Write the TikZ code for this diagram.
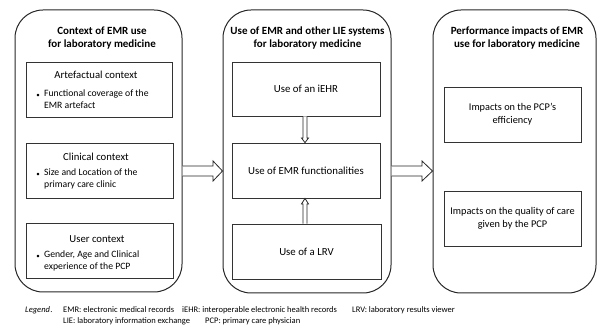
\documentclass[tikz,border=0pt]{standalone}
\usepackage{fontspec}
\setmainfont{Carlito}
\begin{document}
\begin{tikzpicture}[x=1pt,y=-1pt,
  outerbox/.style={draw=black!85, line width=1pt, rounded corners=28pt, inner sep=0pt},
  innerbox/.style={draw=black!80, line width=0.8pt, inner sep=0pt},
  titletext/.style={font=\fontsize{11}{12.5}\selectfont\bfseries, align=center, inner sep=0pt},
  boxtext/.style={font=\fontsize{10.8}{13.5}\selectfont, align=center, inner sep=0pt},
  headtext/.style={font=\fontsize{10.7}{13}\selectfont, inner sep=0pt},
  bullettext/.style={font=\fontsize{9.7}{11.3}\selectfont, align=left, inner sep=0pt, anchor=north west},
  bulletdot/.style={font=\fontsize{7}{8}\selectfont, inner sep=0pt},
  legendtext/.style={font=\fontsize{8.5}{10}\selectfont, inner sep=0pt, anchor=base west},
  hollow/.style={draw=black!85, line width=0.8pt, fill=white, line join=miter}
]
\useasboundingbox (0,0) rectangle (598,331);

% outer boxes
\node[outerbox, minimum width=167pt, minimum height=282pt] (L) at (98.5,151) {};
\node[outerbox, minimum width=168pt, minimum height=283pt] (M) at (307,151.5) {};
\node[outerbox, minimum width=163pt, minimum height=283pt] (R) at (514.5,151.5) {};

% titles
\node[titletext] (Lt) at (102,38) {Context of EMR use\\for laboratory medicine};
\node[titletext] (Mt) at (307.5,38) {Use of EMR and other LIE systems\\for laboratory medicine};
\node[titletext] (Rt) at (517,38) {Performance impacts of EMR\\use for laboratory medicine};

% left inner boxes
\node[innerbox, minimum width=146pt, minimum height=55pt] (A) at (99,89.5) {};
\node[innerbox, minimum width=147pt, minimum height=55pt] (C) at (99.5,170.5) {};
\node[innerbox, minimum width=147pt, minimum height=55pt] (U) at (99.5,250.5) {};

\node[headtext] (Ah) at (96,75) {Artefactual context};
\node[bulletdot] (Ab) at (38,95.5) {•};
\node[bullettext] (Ax) at (44,90) {Functional coverage of the\\EMR artefact};

\node[headtext] (Ch) at (96,157) {Clinical context};
\node[bulletdot] (Cb) at (38,174.5) {•};
\node[bullettext] (Cx) at (44,169) {Size and Location of the\\primary care clinic};

\node[headtext] (Uh) at (97,239) {User context};
\node[bulletdot] (Ub) at (38,256.5) {•};
\node[bullettext] (Ux) at (44,251) {Gender, Age and Clinical\\experience of the PCP};

% middle inner boxes
\node[innerbox, boxtext, minimum width=148pt, minimum height=54pt] (I) at (306,89) {Use of an iEHR};
\node[innerbox, boxtext, minimum width=148pt, minimum height=55pt] (F) at (306,170.5) {Use of EMR functionalities};
\node[innerbox, boxtext, minimum width=149pt, minimum height=55pt] (V) at (306.5,251.5) {Use of a LRV};

% right inner boxes
\node[innerbox, boxtext, minimum width=137pt, minimum height=55pt, font=\fontsize{10.3}{13}\selectfont] (E) at (512.5,114.5) {Impacts on the PCP’s\\efficiency};
\node[innerbox, boxtext, minimum width=137pt, minimum height=55pt, font=\fontsize{10.3}{13}\selectfont] (Q) at (512.5,218.5) {Impacts on the quality of care\\given by the PCP};

% small hollow arrows
\draw[hollow] (I.south -| 303,0) -- (303,138) -- (301.5,138) -- (F.north -| 305,0) -- (308.5,138) -- (307,138) -- (I.south -| 307,0);
\draw[hollow] (V.north -| 303,0) -- (303,204) -- (301.5,204) -- (F.south -| 305,0) -- (308.5,204) -- (307,204) -- (V.north -| 307,0);

% big hollow arrows
\draw[hollow] (L.east |- 0,166) -- (213,166) -- (213,161) -- (M.west |- 0,171) -- (213,181) -- (213,176) -- (L.east |- 0,176);
\draw[hollow] (M.east |- 0,166) -- (422,166) -- (422,161) -- (R.west |- 0,171) -- (422,181) -- (422,176) -- (M.east |- 0,176);

% legend
\node[legendtext, font=\fontsize{8.5}{10}\selectfont\itshape] (lg) at (25,313) {Legend};
\node[legendtext] (lgdot) at (lg.base east) {.};
\node[legendtext] (l1) at (63,313) {EMR: electronic medical records};
\node[legendtext] (l2) at (182,313) {iEHR: interoperable electronic health records};
\node[legendtext] (l3) at (352,313) {LRV: laboratory results viewer};
\node[legendtext] (l4) at (63,324) {LIE: laboratory information exchange};
\node[legendtext] (l5) at (205,324) {PCP: primary care physician};
\end{tikzpicture}
\end{document}
